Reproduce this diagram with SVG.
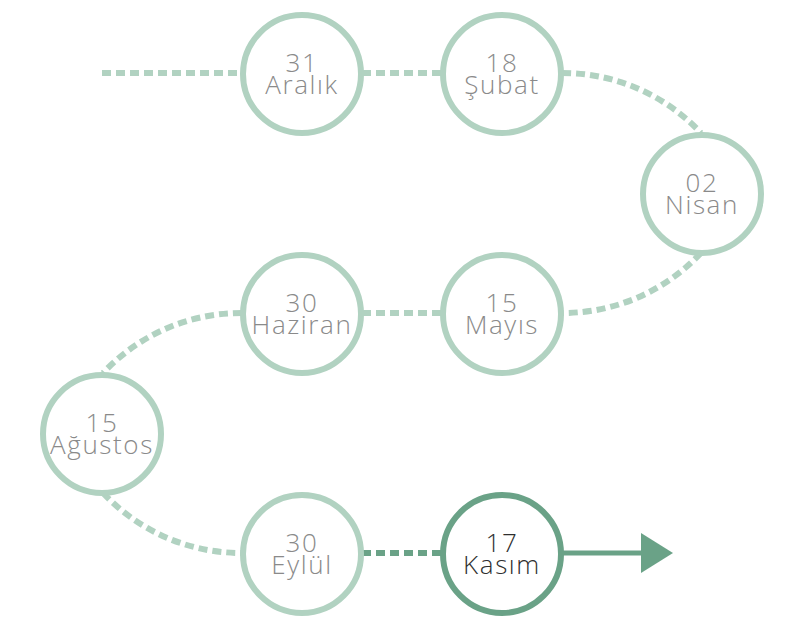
<svg xmlns="http://www.w3.org/2000/svg" width="804" height="617" viewBox="0 0 804 617">
<style>
.dash{fill:none;stroke:#b1d2c1;stroke-width:6;stroke-dasharray:9 5}
.dashdark{fill:none;stroke:#6aa287;stroke-width:6;stroke-dasharray:9 5}
.node{fill:#fff;stroke:#b1d2c1;stroke-width:6}
.active{fill:#fff;stroke:#6aa287;stroke-width:6}
text{font-family:"Open Sans","Noto Sans","Liberation Sans",sans-serif;font-size:26px;font-weight:300;letter-spacing:1.6px;fill:#8a8a8a;text-anchor:middle}
.act text{fill:#2f2f2f}
</style>
<defs>
<marker id="arrow" markerWidth="32" markerHeight="40" refX="0" refY="20" orient="auto" markerUnits="userSpaceOnUse">
<path d="M0,0 L32,20 L0,40 Z" fill="#6aa287"/>
</marker>
</defs>
<g id="connectors">
<path class="dash" d="M102,73 H242"/>
<path class="dash" d="M362,73 H442"/>
<path class="dash" d="M562,73 C620,73 668,98 701,133"/>
<path class="dash" d="M701,253 C668,288 620,313 562,313"/>
<path class="dash" d="M362,313 H442"/>
<path class="dash" d="M242,313 C184,313 136,338 103,373"/>
<path class="dash" d="M103,493 C136,528 184,553 242,553"/>
<path class="dashdark" d="M362,553 H442"/>
<path d="M562,553 H641" stroke="#6aa287" stroke-width="5" fill="none" marker-end="url(#arrow)"/>
</g>
<g id="n1"><circle class="node" cx="302" cy="74" r="59"/><text x="302" y="72">31<tspan x="302" y="94">Aralık</tspan></text></g>
<g id="n2"><circle class="node" cx="502" cy="74" r="59"/><text x="502" y="72">18<tspan x="502" y="94">Şubat</tspan></text></g>
<g id="n3"><circle class="node" cx="702" cy="194" r="59"/><text x="702" y="192">02<tspan x="702" y="214">Nisan</tspan></text></g>
<g id="n4"><circle class="node" cx="502" cy="314" r="59"/><text x="502" y="312">15<tspan x="502" y="334">Mayıs</tspan></text></g>
<g id="n5"><circle class="node" cx="302" cy="314" r="59"/><text x="302" y="312">30<tspan x="302" y="334">Haziran</tspan></text></g>
<g id="n6"><circle class="node" cx="102" cy="434" r="59"/><text x="102" y="432">15<tspan x="102" y="454">Ağustos</tspan></text></g>
<g id="n7"><circle class="node" cx="302" cy="554" r="59"/><text x="302" y="552">30<tspan x="302" y="574">Eylül</tspan></text></g>
<g id="n8" class="act"><circle class="active" cx="502" cy="554" r="59"/><text x="502" y="552">17<tspan x="502" y="574">Kasım</tspan></text></g>
</svg>
